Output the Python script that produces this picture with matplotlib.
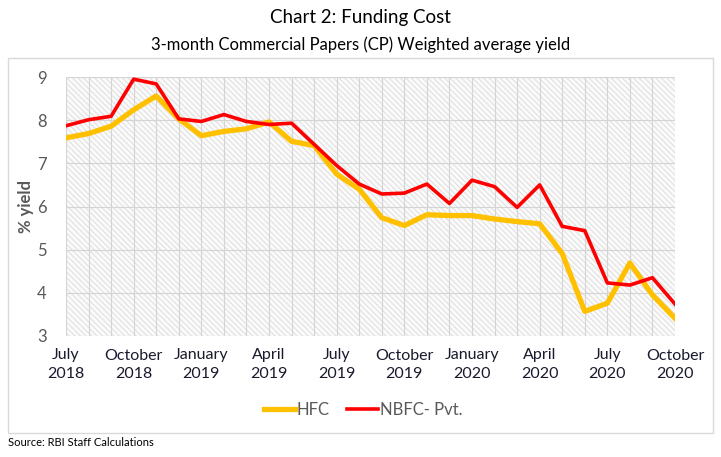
import numpy as np
import matplotlib
matplotlib.use("Agg")
import matplotlib.pyplot as plt
from matplotlib.patches import Rectangle

plt.rcParams['font.family'] = ['Lato', 'DejaVu Sans']
plt.rcParams['hatch.linewidth'] = 0.6

# -------------------------
# Data (monthly, July 2018 - October 2020)
# -------------------------
months = ["Jul-18", "Aug-18", "Sep-18", "Oct-18", "Nov-18", "Dec-18",
          "Jan-19", "Feb-19", "Mar-19", "Apr-19", "May-19", "Jun-19",
          "Jul-19", "Aug-19", "Sep-19", "Oct-19", "Nov-19", "Dec-19",
          "Jan-20", "Feb-20", "Mar-20", "Apr-20", "May-20", "Jun-20",
          "Jul-20", "Aug-20", "Sep-20", "Oct-20"]

hfc = [7.59, 7.69, 7.86, 8.24, 8.56, 8.03, 7.64, 7.74, 7.80, 7.96, 7.51, 7.41,
       6.75, 6.40, 5.74, 5.56, 5.81, 5.79, 5.79, 5.71, 5.65, 5.60, 4.91, 3.57,
       3.76, 4.69, 3.95, 3.41]

nbfc_pvt = [7.87, 8.01, 8.09, 8.95, 8.84, 8.03, 7.97, 8.13, 7.97, 7.90, 7.93, 7.44,
            6.95, 6.52, 6.29, 6.31, 6.52, 6.07, 6.61, 6.46, 5.98, 6.50, 5.54, 5.44,
            4.23, 4.18, 4.35, 3.74]

tick_labels = ["July\n2018", "October\n2018", "January\n2019", "April\n2019",
               "July\n2019", "October\n2019", "January\n2020", "April\n2020",
               "July\n2020", "October\n2020"]

# -------------------------
# Figure
# -------------------------
fig = plt.figure(figsize=(7.21, 4.57), dpi=100)
W, H = 721, 457

# outer chart border
fig.patches.append(Rectangle((8 / W, 1 - 433 / H), 705 / W, 375 / H,
                             transform=fig.transFigure, fill=False,
                             edgecolor="#d9d9d9", linewidth=1.0))

fig.text(0.5, 1 - 17 / H, "Chart 2: Funding Cost", ha="center", va="center",
         fontsize=13.5, color="black")
fig.text(0.5, 1 - 45 / H, "3-month Commercial Papers (CP) Weighted average yield",
         ha="center", va="center", fontsize=12, color="black")
fig.text(8 / W, 1 - 443 / H, "Source: RBI Staff Calculations", ha="left",
         va="center", fontsize=8, color="black")

ax = fig.add_axes([66 / W, 1 - 336 / H, 609 / W, 259 / H])
x = np.arange(len(months))

# hatched plot background
ax.add_patch(Rectangle((0, 3), 27, 6, facecolor="#fafafa", edgecolor="#dadada",
                       hatch="\\\\\\\\\\\\", linewidth=0, zorder=0))

ax.plot(x, hfc, color="#FFC000", linewidth=3.8, label="HFC", zorder=3)
ax.plot(x, nbfc_pvt, color="#FF0000", linewidth=2.6, label="NBFC- Pvt.", zorder=4)

ax.set_xlim(0, 27)
ax.set_ylim(3, 9)
ax.set_yticks(np.arange(3, 10, 1))
ax.set_xticks(np.arange(0, 28, 3))
ax.set_xticklabels(tick_labels)
ax.set_xticks(x, minor=True)
ax.grid(True, which="both", axis="x", color="#d4d4d4", linewidth=0.8, zorder=1)
ax.grid(True, which="major", axis="y", color="#d4d4d4", linewidth=0.8, zorder=1)
ax.set_axisbelow(True)

for s in ax.spines.values():
    s.set_visible(False)
ax.tick_params(axis="both", which="both", length=0)
ax.tick_params(axis="y", labelsize=12, labelcolor="#595959", pad=14)
ax.tick_params(axis="x", labelsize=11.5, labelcolor="#1a1a2e", pad=9)
for lbl in ax.get_xticklabels():
    lbl.set_linespacing(1.45)

ax.set_ylabel("% yield", fontsize=12, fontweight="bold", color="#595959", labelpad=2)

leg = fig.legend(loc="center", bbox_to_anchor=(363 / W, 1 - 410 / H), ncol=2,
                 frameon=False, fontsize=12, handlelength=1.9, handletextpad=0.1,
                 columnspacing=1.0)
for t in leg.get_texts():
    t.set_color("#595959")

fig.savefig("out.png", dpi=100)
